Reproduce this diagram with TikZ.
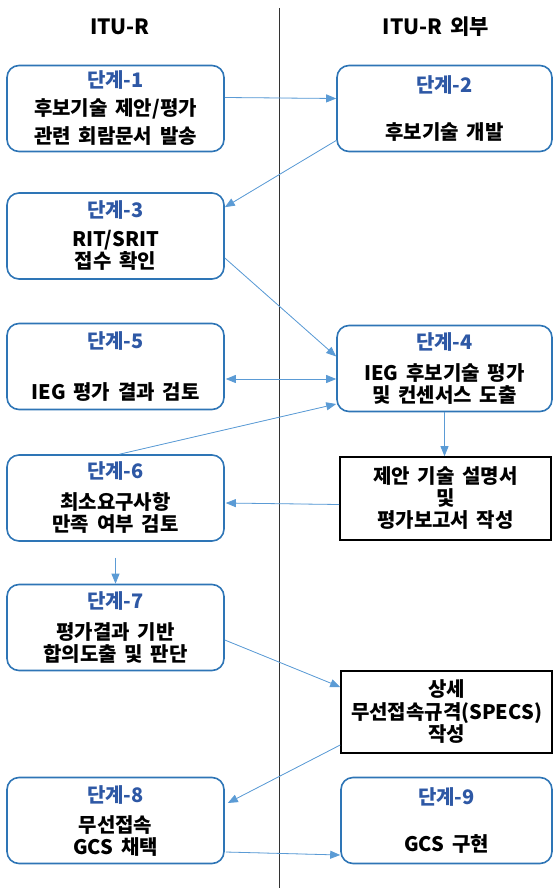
\documentclass[tikz,border=0pt]{standalone}
\usepackage{fontspec}
\setmainfont{Noto Sans CJK KR}[WordSpace=1.7]
\usetikzlibrary{arrows.meta}
\definecolor{titleblue}{RGB}{46,88,165}
\definecolor{boxblue}{RGB}{46,117,182}
\definecolor{linkblue}{RGB}{91,155,213}
\tikzset{>={Triangle[length=10pt,width=8pt]},
	stage/.style={draw=boxblue, line width=1.6pt, rounded corners=12pt, align=center,
		minimum width=217pt, minimum height=86pt, inner sep=0pt,
		font=\fontsize{20}{22}\selectfont\bfseries},
	docbox/.style={draw=black, line width=1.6pt, align=center,
		minimum width=211pt, minimum height=83pt, inner sep=0pt,
		font=\fontsize{20}{22}\selectfont\bfseries},
	link/.style={->, draw=linkblue, fill=linkblue, line width=0.8pt}}
\newcommand{\stagetitle}[1]{{\color{titleblue}#1}}

\begin{document}
\begin{tikzpicture}[x=1pt, y=-1pt]
	\useasboundingbox (0,0) rectangle (553,888);
	\coordinate (divtop) at (279,8);
	\coordinate (divbot) at (279,888);
	\draw [black!80, line width=0.8pt] (divtop) -- (divbot);
	\node (hleft) at (120,27) {\fontsize{21}{24}\selectfont\bfseries ITU-R};
	\node (hright) at (436,27) {\fontsize{21}{24}\selectfont\bfseries ITU-R 외부};
	% ITU-R side
	\node (s1) at (115.5,108.5) [stage] {\stagetitle{단계-1}\\[6pt] 후보기술 제안/평가\\[6pt] 관련 회람문서 발송};
	\node (s3) at (115.5,236) [stage] {\stagetitle{단계-3}\\[7pt] RIT/SRIT\\ 접수 확인};
	\node (s5) at (115.5,366.5) [stage] {\stagetitle{단계-5}\\[29pt] IEG 평가 결과 검토};
	\node (s6) at (115.5,498) [stage] {\stagetitle{단계-6}\\[9pt] 최소요구사항\\ 만족 여부 검토};
	\node (s7) at (115.5,627.5) [stage] {\stagetitle{단계-7}\\[9pt] 평가결과 기반\\ 합의도출 및 판단};
	\node (s8) at (115.5,820.5) [stage] {\stagetitle{단계-8}\\[8pt] 무선접속\\ GCS 채택};
	% outside ITU-R
	\node (s2) at (444.5,108.5) [stage, minimum width=215pt] {\stagetitle{단계-2}\\[25pt] 후보기술 개발};
	\node (s4) at (444.5,368.5) [stage, minimum width=215pt] {\stagetitle{단계-4}\\[9pt] IEG 후보기술 평가\\ 및 컨센서스 도출};
	\node (doc) at (445.5,498.5) [docbox] {제안 기술 설명서\\ 및\\ 평가보고서 작성};
	\node (specs) at (446.5,712) [docbox, minimum height=82pt] {상세\\[1pt] 무선접속규격(SPECS)\\ 작성};
	\node (s9) at (446.5,820.5) [stage, minimum width=211pt] {\stagetitle{단계-9}\\[25pt] GCS 구현};
	% connectors
	\draw [link] ([yshift=11pt]s1.east) -- ([yshift=10pt]s2.west);
	\draw [link] ([yshift=-32pt]s2.west) -- ([yshift=-15pt]s3.north east);
	\draw [link] ([yshift=-22pt]s3.east) -- ([yshift=12pt]s4.west);
	\draw [link, <->] ([xshift=1pt, yshift=-12.5pt]s5.east) -- ([yshift=-10.5pt]s4.west);
	\draw [link] ([xshift=4pt]s6.north) -- ([yshift=-35.5pt]s4.west);
	\draw [link] (s4.south) -- (s4.south |- doc.north);
	\draw [link] ([yshift=-6pt]doc.west) -- ([xshift=1pt, yshift=-5pt]s6.east);
	\draw [link] ([yshift=-16pt]s6.south) -- (s7.north);
	\draw [link] ([yshift=-12.5pt]s7.east) -- ([yshift=25pt]specs.west);
	\draw [link] ([yshift=-33pt]specs.west) -- ([xshift=3pt, yshift=17.5pt]s8.east);
	\draw [link] ([xshift=1pt, yshift=-31.5pt]s8.east) -- ([yshift=-34.5pt]s9.west);
\end{tikzpicture}
\end{document}
